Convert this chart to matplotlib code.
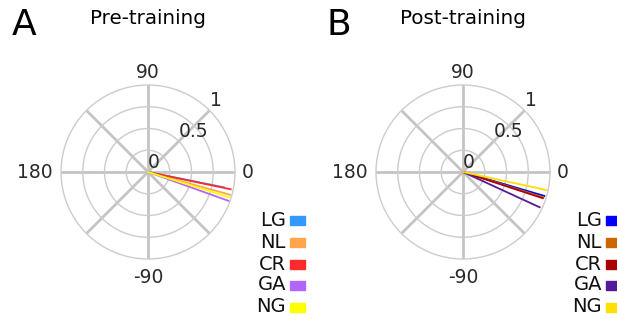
import numpy as np
import matplotlib
matplotlib.use('Agg')
import matplotlib.pyplot as plt

# data (angle in degrees, length)
groups = ['LG', 'NL', 'CR', 'GA', 'NG']
pre_angle = [-11.4, -15.5, -11.8, -19.7, -17.3]
pre_r = [0.89, 0.98, 0.97, 0.99, 0.975]
post_angle = [-16.4, -17.5, -18.2, -24.7, -12.2]
post_r = [0.975, 0.97, 0.965, 0.97, 0.98]
pre_colors = ['#3399ff', '#ffa64d', '#ff2a2a', '#b266ff', '#ffff00']
post_colors = ['#0000ff', '#cc6600', '#aa0000', '#551a99', '#ffe000']
panels = ['A', 'B']
titles = ['Pre-training', 'Post-training']
angle_ticks = [0, 90, 180, -90]

W, H = 617, 321
fig = plt.figure(figsize=(W / 100, H / 100), dpi=100)

centers = [(148, 172), (463, 172)]
R = 87
legend_x = [286, 602]
legend_y = [220, 242, 264, 285, 307]

# where the angle labels sit relative to the outer circle (pixels)
lab_pos = {0: ((7, 0), 'left', 'center'), 90: ((0, 3), 'center', 'bottom'),
           180: ((-8, 0), 'right', 'center'), -90: ((0, -9), 'center', 'top')}

for k, (angles, radii, cols) in enumerate([(pre_angle, pre_r, pre_colors),
                                           (post_angle, post_r, post_colors)]):
    cx, cy = centers[k]
    ax = fig.add_axes([(cx - R) / W, (H - cy - R) / H, 2 * R / W, 2 * R / H],
                      projection='polar')
    ax.set_ylim(0, 1)
    ax.set_yticks([0.25, 0.5, 0.75])
    ax.set_yticklabels([])
    ax.set_xticks(np.radians(np.arange(0, 360, 45)))
    ax.set_xticklabels([])
    ax.xaxis.grid(True, color='#c4c4c4', linewidth=2.0)
    ax.yaxis.grid(True, color='#cccccc', linewidth=1.0)
    ax.spines['polar'].set_color('#cccccc')
    ax.spines['polar'].set_linewidth(1.0)
    ax.set_facecolor('white')

    for a, r, c in zip(angles, radii, cols):
        ax.plot([0, np.radians(a)], [0, r], color=c, linewidth=1.3)

    # angle labels
    for t in angle_ticks:
        off, ha, va = lab_pos[t]
        ax.annotate(str(t), xy=(np.radians(t), 1), xytext=off,
                    textcoords='offset pixels', ha=ha, va=va,
                    fontsize=13.5, color='#2a2a2a', annotation_clip=False)

    # radial tick labels along 45 degrees
    for val, lab in [(0, '0'), (0.5, '0.5'), (1, '1')]:
        ax.annotate(lab, xy=(np.radians(45), val), xytext=(0, 0),
                    textcoords='offset points', ha='left', va='bottom',
                    fontsize=13.5, color='#2a2a2a', annotation_clip=False)

    fig.text(cx / W, 1 - 18 / H, titles[k], ha='center', va='center', fontsize=14.3)
    fig.text((12 if k == 0 else 327) / W, 1 - 25 / H, panels[k],
             ha='left', va='center', fontsize=26)

    # legend
    for g, c, y in zip(groups, cols, legend_y):
        fig.text(legend_x[k] / W, 1 - y / H, g, ha='right', va='center',
                 fontsize=14, color='#111111')
        fig.patches.append(plt.Rectangle(((legend_x[k] + 4) / W, 1 - (y + 5) / H),
                                         15 / W, 9 / H, color=c,
                                         transform=fig.transFigure, figure=fig))

fig.savefig('out.png', dpi=100)
